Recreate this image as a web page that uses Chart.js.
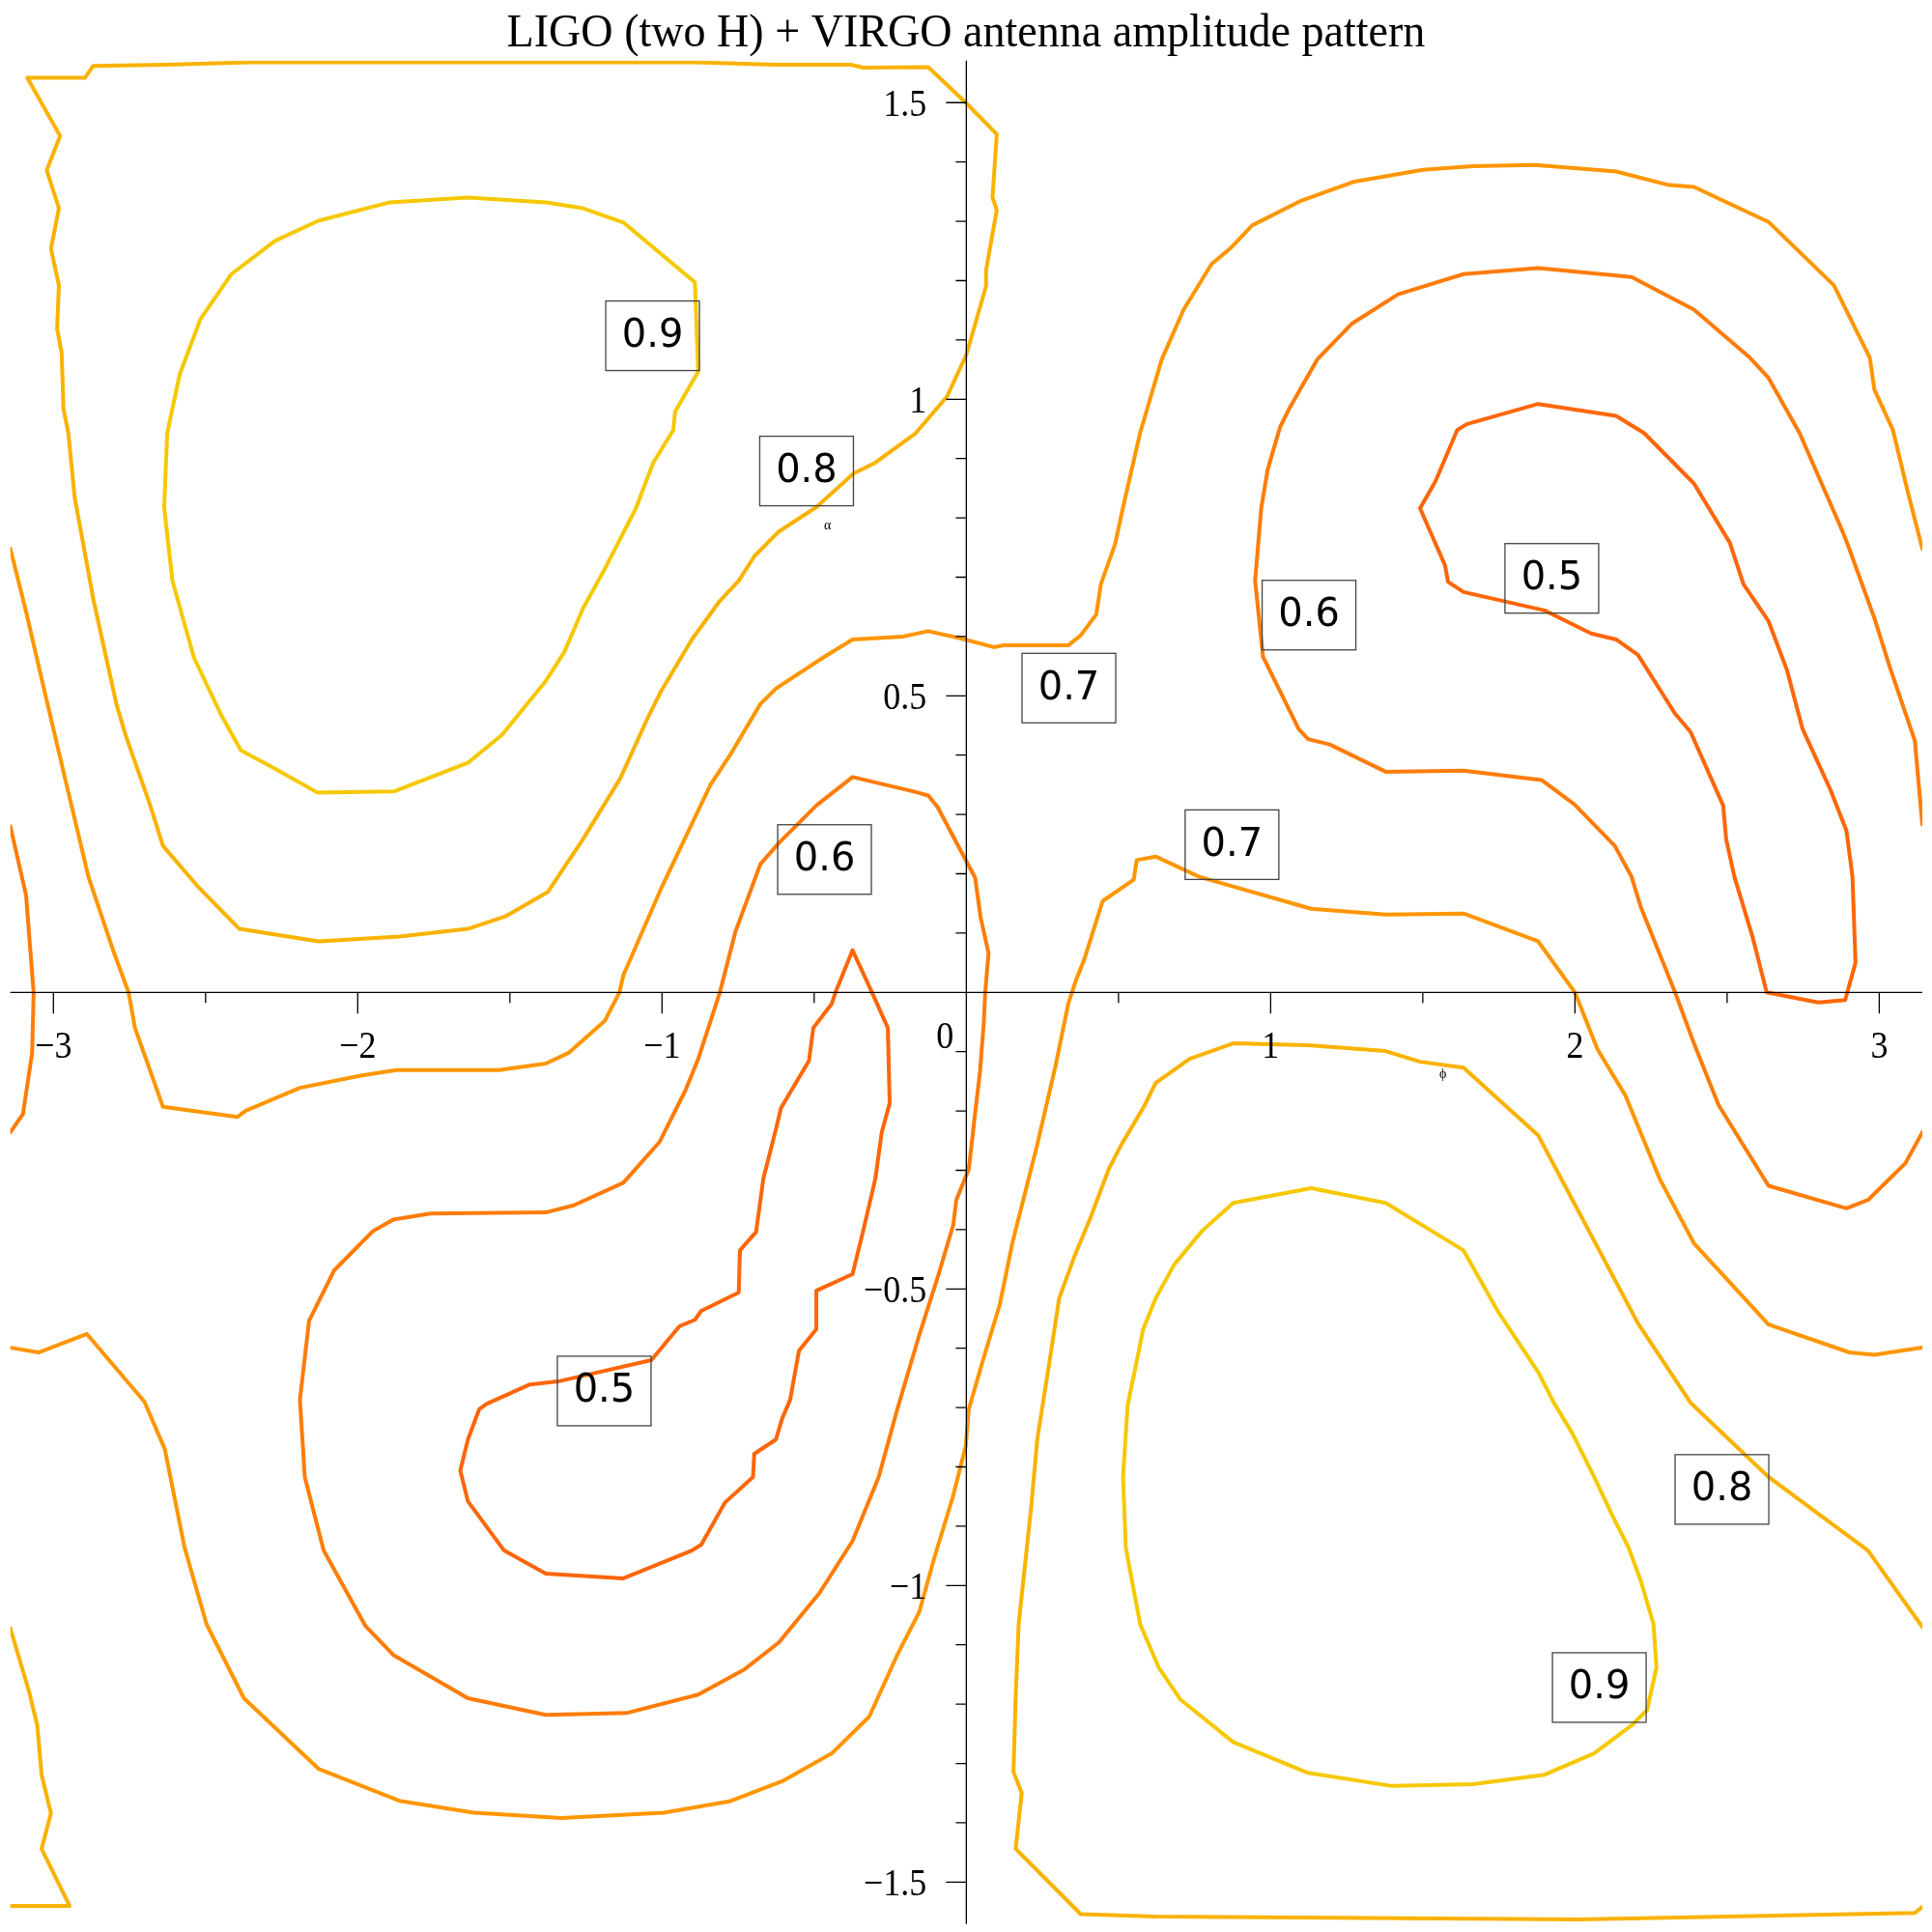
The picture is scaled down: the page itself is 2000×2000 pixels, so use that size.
<!DOCTYPE html>
<html>
<head>
<meta charset="utf-8">
<script src="https://cdn.jsdelivr.net/npm/chart.js@4.4.0/dist/chart.umd.min.js"></script>
<style>
  html, body { margin: 0; padding: 0; background: #fff; }
  #wrap { width: 2000px; height: 2000px; }
</style>
</head>
<body>
<div id="wrap"><canvas id="plot" width="2000" height="2000"></canvas></div>
<script>
const PI = Math.PI;

// contour lines, [phi, alpha] pairs
const level09a = [[-0.892,1.197],[-0.881,1.047],[-0.957,0.979],[-0.963,0.948],[-1.029,0.893],[-1.086,0.816],[-1.188,0.714],[-1.260,0.647],[-1.321,0.574],[-1.382,0.525],[-1.526,0.434],[-1.638,0.387],[-1.879,0.339],[-2.133,0.337],[-2.272,0.377],[-2.384,0.408],[-2.446,0.465],[-2.538,0.564],[-2.609,0.694],[-2.636,0.818],[-2.626,0.943],[-2.585,1.042],[-2.517,1.135],[-2.415,1.211],[-2.272,1.267],[-2.129,1.301],[-1.894,1.332],[-1.638,1.340],[-1.382,1.332],[-1.260,1.322],[-1.127,1.298],[-0.892,1.197]];
const level09b = [[1.133,-0.330],[1.378,-0.355],[1.634,-0.435],[1.746,-0.537],[1.879,-0.640],[1.931,-0.692],[1.992,-0.744],[2.063,-0.817],[2.125,-0.884],[2.176,-0.936],[2.217,-0.993],[2.258,-1.065],[2.268,-1.138],[2.237,-1.210],[2.186,-1.236],[2.063,-1.283],[1.900,-1.319],[1.665,-1.335],[1.399,-1.338],[1.123,-1.316],[0.877,-1.264],[0.703,-1.192],[0.632,-1.138],[0.571,-1.065],[0.524,-0.936],[0.515,-0.817],[0.530,-0.697],[0.581,-0.568],[0.622,-0.516],[0.683,-0.459],[0.775,-0.402],[0.877,-0.355],[1.133,-0.330]];
const level08a = [[-3.086,1.542],[-2.896,1.542],[-2.869,1.562],[-2.630,1.564],[-2.354,1.568],[-0.892,1.568],[-0.626,1.564],[-0.380,1.564],[-0.339,1.559],[-0.125,1.560],[-0.002,1.500],[0.100,1.447],[0.086,1.340],[0.100,1.319],[0.065,1.218],[0.065,1.191],[0.0,1.075],[-0.063,1.005],[-0.166,0.943],[-0.299,0.893],[-0.370,0.875],[-0.493,0.818],[-0.616,0.777],[-0.697,0.735],[-0.748,0.694],[-0.810,0.660],[-0.902,0.595],[-1.004,0.507],[-1.045,0.465],[-1.137,0.361],[-1.260,0.258],[-1.376,0.169],[-1.515,0.128],[-1.638,0.107],[-1.863,0.094],[-2.129,0.086],[-2.389,0.107],[-2.528,0.180],[-2.640,0.247],[-2.685,0.320],[-2.763,0.434],[-2.793,0.486],[-2.869,0.663],[-2.930,0.834],[-2.951,0.943],[-2.967,0.984],[-2.973,1.078],[-2.988,1.119],[-2.982,1.192],[-3.008,1.254],[-2.982,1.322],[-3.022,1.386],[-2.978,1.444],[-3.086,1.542]];
const level08b = [[PI,-1.070],[2.963,-0.941],[2.636,-0.817],[2.380,-0.692],[2.207,-0.558],[1.879,-0.241],[1.634,-0.127],[1.491,-0.117],[1.378,-0.099],[1.123,-0.089],[0.877,-0.086],[0.734,-0.112],[0.622,-0.153],[0.581,-0.195],[0.509,-0.257],[0.468,-0.298],[0.407,-0.381],[0.356,-0.444],[0.305,-0.516],[0.274,-0.620],[0.233,-0.754],[0.213,-0.868],[0.172,-1.065],[0.162,-1.190],[0.155,-1.314],[0.182,-1.350],[0.162,-1.444],[0.376,-1.554],[0.622,-1.558],[2.012,-1.563],[3.117,-1.552],[PI,-1.542]];
const level08bEdge = [[-PI,-1.540],[-2.947,-1.540],[-3.039,-1.444],[-3.008,-1.384],[-3.039,-1.319],[-3.053,-1.236],[-3.080,-1.179],[-PI,-1.072]];
const level07a = [[-PI,0.748],[-3.090,0.642],[-3.029,0.507],[-2.967,0.372],[-2.885,0.195],[-2.804,0.071],[-2.753,0.0],[-2.732,-0.060],[-2.640,-0.193],[-2.395,-0.210],[-2.370,-0.200],[-2.190,-0.161],[-1.986,-0.140],[-1.873,-0.131],[-1.536,-0.131],[-1.382,-0.120],[-1.307,-0.102],[-1.188,-0.048],[-1.140,0.0],[-1.127,0.029],[-1.004,0.174],[-0.840,0.351],[-0.779,0.398],[-0.677,0.486],[-0.626,0.512],[-0.472,0.564],[-0.374,0.595],[-0.207,0.600],[-0.125,0.609],[-0.020,0.597],[0.090,0.582],[0.121,0.585],[0.335,0.585],[0.376,0.602],[0.427,0.637],[0.442,0.688],[0.489,0.756],[0.515,0.818],[0.571,0.943],[0.642,1.067],[0.714,1.151],[0.806,1.228],[0.867,1.254],[0.939,1.293],[1.102,1.335],[1.276,1.367],[1.501,1.387],[1.665,1.393],[1.869,1.395],[2.135,1.384],[2.309,1.361],[2.391,1.358],[2.636,1.299],[2.851,1.192],[2.969,1.070],[2.984,1.016],[3.045,0.948],[3.096,0.839],[PI,0.748]];
const level07b = [[-PI,-0.599],[-3.049,-0.607],[-2.890,-0.576],[-2.701,-0.690],[-2.634,-0.770],[-2.569,-0.936],[-2.497,-1.065],[-2.374,-1.190],[-2.129,-1.309],[-1.863,-1.363],[-1.618,-1.383],[-1.331,-1.392],[-0.994,-1.383],[-0.779,-1.364],[-0.605,-1.330],[-0.442,-1.283],[-0.319,-1.221],[-0.227,-1.117],[-0.155,-1.045],[-0.104,-0.951],[-0.043,-0.848],[-0.002,-0.765],[0.008,-0.703],[0.049,-0.630],[0.110,-0.526],[0.151,-0.423],[0.233,-0.257],[0.294,-0.122],[0.335,-0.019],[0.360,0.020],[0.387,0.055],[0.448,0.154],[0.550,0.190],[0.560,0.223],[0.622,0.229],[0.765,0.195],[1.133,0.141],[1.378,0.131],[1.634,0.133],[1.879,0.086],[2.000,0.0],[2.074,-0.096],[2.166,-0.174],[2.278,-0.314],[2.391,-0.423],[2.636,-0.560],[2.902,-0.607],[2.984,-0.611],[PI,-0.599]];
const level06a = [[PI,0.283],[3.117,0.424],[3.035,0.548],[2.984,0.631],[2.892,0.761],[2.871,0.787],[2.738,0.943],[2.636,1.036],[2.575,1.070],[2.391,1.151],[2.186,1.206],[1.879,1.221],[1.634,1.211],[1.419,1.177],[1.266,1.127],[1.153,1.067],[1.061,0.984],[1.031,0.953],[0.990,0.881],[0.969,0.816],[0.949,0.694],[0.975,0.566],[1.092,0.444],[1.123,0.427],[1.194,0.418],[1.378,0.372],[1.634,0.374],[1.890,0.358],[1.998,0.317],[2.131,0.247],[2.186,0.195],[2.217,0.143],[2.329,0.0],[2.391,-0.086],[2.472,-0.190],[2.636,-0.326],[2.892,-0.364],[2.963,-0.350],[3.086,-0.288],[PI,-0.236]];
const level06aEdge = [[-PI,0.280],[-3.090,0.164],[-3.065,0.0],[-3.070,-0.102],[-3.100,-0.205],[-PI,-0.236]];
const level06b = [[-0.810,0.0],[-0.881,-0.112],[-0.922,-0.164],[-1.008,-0.252],[-1.127,-0.321],[-1.290,-0.359],[-1.382,-0.371],[-1.761,-0.373],[-1.883,-0.383],[-1.949,-0.402],[-2.078,-0.469],[-2.160,-0.554],[-2.190,-0.687],[-2.174,-0.817],[-2.112,-0.941],[-1.975,-1.068],[-1.883,-1.117],[-1.638,-1.190],[-1.382,-1.218],[-1.117,-1.215],[-0.881,-1.184],[-0.728,-1.141],[-0.616,-1.096],[-0.483,-1.013],[-0.374,-0.925],[-0.288,-0.817],[-0.227,-0.703],[-0.155,-0.578],[-0.094,-0.480],[-0.043,-0.392],[-0.033,-0.350],[0.008,-0.298],[0.031,-0.194],[0.045,-0.133],[0.057,-0.053],[0.062,0.0],[0.073,0.066],[0.047,0.126],[0.029,0.193],[-0.030,0.250],[-0.094,0.312],[-0.125,0.332],[-0.176,0.339],[-0.374,0.363],[-0.493,0.315],[-0.616,0.252],[-0.677,0.216],[-0.759,0.102],[-0.810,0.0]];
const level05a = [[1.491,0.816],[1.542,0.862],[1.613,0.948],[1.644,0.958],[1.879,0.992],[2.135,0.972],[2.227,0.943],[2.391,0.858],[2.509,0.758],[2.554,0.688],[2.636,0.626],[2.697,0.543],[2.748,0.444],[2.840,0.341],[2.892,0.273],[2.912,0.195],[2.922,0.050],[2.888,-0.013],[2.800,-0.017],[2.630,0.0],[2.585,0.091],[2.524,0.195],[2.497,0.258],[2.487,0.315],[2.380,0.439],[2.329,0.470],[2.207,0.569],[2.135,0.595],[2.053,0.605],[1.900,0.644],[1.634,0.675],[1.583,0.692],[1.573,0.720],[1.491,0.816]];
const level05b = [[-0.374,0.071],[-0.310,0.0],[-0.258,-0.060],[-0.252,-0.187],[-0.278,-0.236],[-0.299,-0.314],[-0.339,-0.402],[-0.374,-0.475],[-0.493,-0.503],[-0.493,-0.568],[-0.550,-0.604],[-0.579,-0.687],[-0.605,-0.718],[-0.626,-0.754],[-0.697,-0.778],[-0.701,-0.817],[-0.793,-0.860],[-0.871,-0.931],[-0.902,-0.941],[-1.127,-0.988],[-1.382,-0.980],[-1.519,-0.941],[-1.638,-0.858],[-1.663,-0.806],[-1.638,-0.754],[-1.601,-0.703],[-1.577,-0.694],[-1.434,-0.661],[-1.342,-0.656],[-1.035,-0.620],[-0.943,-0.563],[-0.892,-0.552],[-0.871,-0.537],[-0.748,-0.506],[-0.744,-0.435],[-0.691,-0.404],[-0.667,-0.314],[-0.626,-0.231],[-0.609,-0.195],[-0.517,-0.115],[-0.503,-0.060],[-0.442,-0.019],[-0.430,0.0],[-0.374,0.071]];

// contour label boxes
const labelText = ["0.9", "0.8", "0.7", "0.7", "0.6", "0.6", "0.5", "0.5", "0.8", "0.9"];
const labelPhi = [-1.031, -0.525, 0.337, 0.873, -0.466, 1.126, 1.924, -1.190, 2.483, 2.080];
const labelAlpha = [1.107, 0.879, 0.513, 0.249, 0.224, 0.636, 0.698, -0.672, -0.838, -1.172];

// axes ticks
const xTickValues = [-3, -2, -1, 1, 2, 3];
const xTickLabels = ["\u22123", "\u22122", "\u22121", "1", "2", "3"];
const xMinorValues = [-2.5, -1.5, -0.5, 0.5, 1.5, 2.5];
const yTickValues = [-1.5, -1, -0.5, 0.5, 1, 1.5];
const yTickLabels = ["\u22121.5", "\u22121", "\u22120.5", "0.5", "1", "1.5"];

const levelColor = {
  "0.9": "rgb(246,200,0)",
  "0.8": "rgb(250,178,0)",
  "0.7": "rgb(255,150,0)",
  "0.6": "rgb(255,124,8)",
  "0.5": "rgb(255,102,8)"
};

const contours = [
  [level09a, "0.9"], [level09b, "0.9"],
  [level08a, "0.8"], [level08b, "0.8"], [level08bEdge, "0.8"],
  [level07a, "0.7"], [level07b, "0.7"],
  [level06a, "0.6"], [level06aEdge, "0.6"], [level06b, "0.6"],
  [level05a, "0.5"], [level05b, "0.5"]
];

const datasets = contours.map(([pts, lev]) => ({
  label: lev,
  data: pts.map(p => ({ x: p[0], y: p[1] })),
  showLine: true,
  borderColor: levelColor[lev],
  backgroundColor: levelColor[lev],
  borderWidth: 4,
  pointRadius: 0,
  fill: false,
  tension: 0
}));

function squeezeText(ctx, text, x, y, align, sx) {
  ctx.save();
  ctx.translate(x, y);
  ctx.scale(sx, 1);
  ctx.textAlign = align;
  ctx.fillText(text, 0, 0);
  ctx.restore();
}

// axes through the origin, Maple style
const axesPlugin = {
  id: "originAxes",
  afterDatasetsDraw(chart) {
    const { ctx, chartArea: a, scales: { x, y } } = chart;
    const x0 = x.getPixelForValue(0), y0 = y.getPixelForValue(0);
    ctx.save();
    ctx.strokeStyle = "#000";
    ctx.lineWidth = 1.3;
    ctx.beginPath();
    ctx.moveTo(a.left, y0); ctx.lineTo(a.right, y0);
    ctx.moveTo(x0, a.top); ctx.lineTo(x0, a.bottom);
    xTickValues.forEach(v => { const px = x.getPixelForValue(v); ctx.moveTo(px, y0); ctx.lineTo(px, y0 + 22); });
    xMinorValues.forEach(v => { const px = x.getPixelForValue(v); ctx.moveTo(px, y0); ctx.lineTo(px, y0 + 11); });
    for (let k = -15; k <= 15; k++) {
      if (k === 0) continue;
      const py = y.getPixelForValue(k / 10);
      const len = (k % 5 === 0) ? 21 : 11;
      ctx.moveTo(x0 - len, py); ctx.lineTo(x0, py);
    }
    ctx.stroke();

    ctx.fillStyle = "#000";
    ctx.font = '40px "Liberation Serif", "Times New Roman", serif';
    ctx.textBaseline = "alphabetic";
    xTickValues.forEach((v, i) => squeezeText(ctx, xTickLabels[i], x.getPixelForValue(v), y0 + 68, "center", 0.9));
    yTickValues.forEach((v, i) => squeezeText(ctx, yTickLabels[i], x0 - 41, y.getPixelForValue(v) + 13.5, "right", 0.9));
    squeezeText(ctx, "0", x0 - 22, y0 + 58, "center", 0.9);

    ctx.font = '14px "Liberation Serif", serif';
    ctx.textAlign = "center";
    ctx.fillText("\u03b1", x.getPixelForValue(-0.456), y.getPixelForValue(0.780));
    ctx.fillText("\u03d5", x.getPixelForValue(1.566), y.getPixelForValue(-0.145));
    ctx.restore();
  }
};

const labelsPlugin = {
  id: "contourLabels",
  afterDatasetsDraw(chart) {
    const { ctx, scales: { x, y } } = chart;
    ctx.save();
    ctx.strokeStyle = "#444";
    ctx.lineWidth = 1.3;
    ctx.fillStyle = "#000";
    ctx.font = '40px "DejaVu Sans", Verdana, sans-serif';
    ctx.textAlign = "center";
    ctx.textBaseline = "middle";
    labelText.forEach((t, i) => {
      const cx = x.getPixelForValue(labelPhi[i]);
      const cy = y.getPixelForValue(labelAlpha[i]);
      ctx.strokeRect(cx - 48.5, cy - 36, 97, 72);
      ctx.fillText(t, cx, cy + 1);
    });
    ctx.restore();
  }
};

const titlePlugin = {
  id: "mapleTitle",
  afterDraw(chart) {
    const { ctx, width } = chart;
    ctx.save();
    ctx.fillStyle = "#000";
    ctx.font = '49px "Liberation Serif", "Times New Roman", serif';
    ctx.textBaseline = "alphabetic";
    squeezeText(ctx, "LIGO (two H) + VIRGO antenna amplitude pattern", width / 2, 48, "center", 0.94);
    ctx.restore();
  }
};

const ctx = document.getElementById("plot").getContext("2d");
new Chart(ctx, {
  type: "scatter",
  data: { datasets: datasets },
  options: {
    responsive: false,
    animation: false,
    layout: { padding: { left: 10.7, right: 10, top: 62.8, bottom: 8.2 } },
    plugins: {
      legend: { display: false },
      tooltip: { enabled: false },
      title: { display: false }
    },
    scales: {
      x: { type: "linear", min: -PI, max: PI, display: false },
      y: { type: "linear", min: -PI / 2, max: PI / 2, display: false }
    },
    elements: { line: { borderJoinStyle: "round", borderCapStyle: "round" } }
  },
  plugins: [axesPlugin, labelsPlugin, titlePlugin]
});
</script>
</body>
</html>
